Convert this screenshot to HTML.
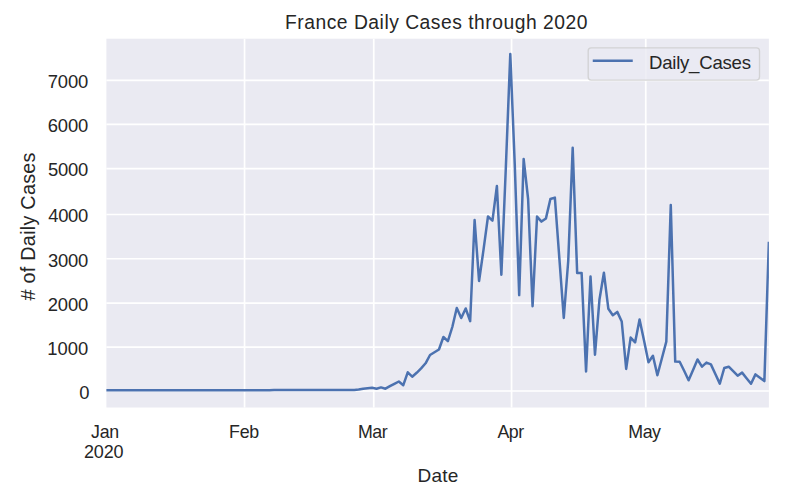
<!DOCTYPE html>
<html><head><meta charset="utf-8"><style>html,body{margin:0;padding:0;background:#fff;width:804px;height:498px;overflow:hidden}svg{display:block}text{font-family:"Liberation Sans",sans-serif}</style></head>
<body><svg width="804" height="498" viewBox="0 0 804 498"><g><rect x="0" y="0" width="804" height="498" fill="#ffffff"/><rect x="106.4" y="38.7" width="662.50" height="368.80" fill="#eaeaf2"/><path d="M106.4,80.4H768.9M106.4,124.45H768.9M106.4,168.65H768.9M106.4,214.5H768.9M106.4,258.75H768.9M106.4,303.15H768.9M106.4,347.05H768.9M106.4,391.0H768.9M244.56,38.7V407.5M373.76,38.7V407.5M511.57,38.7V407.5M645.76,38.7V407.5" stroke="#ffffff" stroke-width="1.7" fill="none"/><clipPath id="c"><rect x="106.4" y="38.7" width="662.50" height="368.80"/></clipPath><polyline clip-path="url(#c)" points="104.60,390.20 109.06,390.20 113.52,390.20 117.97,390.20 122.43,390.20 126.89,390.20 131.35,390.20 135.81,390.20 140.26,390.20 144.72,390.20 149.18,390.20 153.64,390.20 158.10,390.20 162.55,390.20 167.01,390.20 171.47,390.20 175.93,390.20 180.39,390.20 184.84,390.20 189.30,390.20 193.76,390.20 198.22,390.20 202.68,390.20 207.13,390.20 211.59,390.20 216.05,390.20 220.51,390.20 224.97,390.20 229.42,390.20 233.88,390.20 238.34,390.20 242.80,390.20 247.26,390.20 251.71,390.20 256.17,390.20 260.63,390.20 265.09,390.20 269.55,390.20 274.00,389.95 278.46,389.95 282.92,389.95 287.38,389.95 291.84,389.95 296.29,389.95 300.75,389.95 305.21,389.95 309.67,389.95 314.13,389.95 318.58,389.95 323.04,389.95 327.50,389.95 331.96,389.95 336.42,389.95 340.87,389.95 345.33,389.95 349.79,389.95 354.25,389.95 358.71,389.60 363.16,388.70 367.62,388.20 372.08,387.80 376.54,388.70 381.00,387.40 385.45,388.70 389.91,386.20 394.37,383.80 398.83,381.50 403.29,385.20 407.74,372.30 412.20,376.70 416.66,372.80 421.12,368.40 425.58,363.30 430.03,355.00 434.49,352.30 438.95,349.50 443.41,337.00 447.87,341.20 452.32,327.00 456.78,308.00 461.24,318.00 465.70,308.50 470.16,321.10 474.61,220.00 479.07,281.00 483.53,249.60 487.99,216.50 492.45,220.60 496.90,186.00 501.36,274.80 505.82,168.00 510.28,54.00 514.74,164.00 519.19,295.10 523.65,159.00 528.11,199.00 532.57,306.30 537.03,216.60 541.48,221.60 545.94,218.40 550.40,199.00 554.86,197.60 559.32,257.80 563.77,318.00 568.23,261.00 572.69,147.80 577.15,272.90 581.61,272.90 586.06,371.50 590.52,276.50 594.98,354.70 599.44,299.80 603.90,272.70 608.35,308.80 612.81,315.30 617.27,311.90 621.73,321.50 626.19,368.90 630.64,337.60 635.10,342.40 639.56,319.50 644.02,340.50 648.48,362.20 652.93,355.70 657.39,375.30 661.85,358.50 666.31,341.60 670.77,205.00 675.22,361.60 679.68,361.80 684.14,370.80 688.60,380.30 693.06,370.00 697.51,359.50 701.97,366.70 706.43,362.60 710.89,364.40 715.35,374.00 719.80,383.60 724.26,368.00 728.72,366.70 733.18,371.20 737.64,375.70 742.09,372.60 746.55,378.20 751.01,383.80 755.47,374.40 759.93,377.80 764.38,381.10 768.84,243.00" fill="none" stroke="#4c72b0" stroke-width="2.5" stroke-linejoin="round" stroke-linecap="square"/><rect x="588.2" y="47.9" width="171.3" height="32.2" rx="3" ry="3" fill="#eaeaf2" fill-opacity="0.8" stroke="#cccccc" stroke-opacity="0.8" stroke-width="1.3"/><path d="M594,60.7H631.5" stroke="#4c72b0" stroke-width="2.5" stroke-linecap="square"/><g fill="#262626" font-family="Liberation Sans"><text x="648.97" y="69.10" font-size="18.60" letter-spacing="-0.241">Daily_Cases</text><text x="285.02" y="28.50" font-size="19.30" letter-spacing="0.507">France Daily Cases through 2020</text><text x="47.76" y="87.93" font-size="18.40" letter-spacing="-0.155">7000</text><text x="47.76" y="132.33" font-size="18.40" letter-spacing="-0.155">6000</text><text x="47.96" y="176.03" font-size="18.40" letter-spacing="-0.223">5000</text><text x="48.28" y="222.33" font-size="18.40" letter-spacing="-0.327">4000</text><text x="48.00" y="266.83" font-size="18.40" letter-spacing="-0.235">3000</text><text x="47.78" y="310.83" font-size="18.40" letter-spacing="-0.161">2000</text><text x="47.30" y="354.93" font-size="18.40" letter-spacing="-0.002">1000</text><text x="79.23" y="398.73" font-size="18.40" letter-spacing="0.000">0</text><text x="91.12" y="437.70" font-size="17.80" letter-spacing="-0.326">Jan</text><text x="83.90" y="457.90" font-size="18.00" letter-spacing="-0.110">2020</text><text x="229.04" y="437.70" font-size="17.80" letter-spacing="-0.231">Feb</text><text x="357.94" y="437.70" font-size="17.80" letter-spacing="-0.395">Mar</text><text x="497.46" y="437.70" font-size="17.80" letter-spacing="-0.529">Apr</text><text x="628.24" y="437.70" font-size="17.80" letter-spacing="-0.415">May</text><text x="417.44" y="481.50" font-size="19.00" letter-spacing="0.222">Date</text><text transform="translate(34.60,300.40) rotate(-90)" x="-0.08" y="0" font-size="19.80" letter-spacing="0.262"># of Daily Cases</text></g></g></svg></body></html>
